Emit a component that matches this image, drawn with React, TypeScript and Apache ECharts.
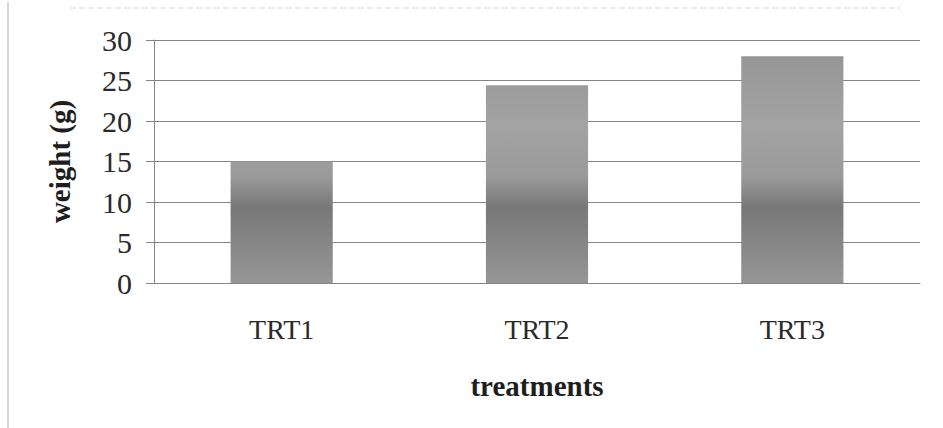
import React, { useEffect, useRef } from "react";
import * as echarts from "echarts";

const categories = ["TRT1", "TRT2", "TRT3"];
const weights = [15, 24.4, 28];
const yTicks = { min: 0, max: 30, interval: 5 };

export default function App() {
  const ref = useRef<HTMLDivElement>(null);
  useEffect(() => {
    if (!ref.current) return;
    const chart = echarts.init(ref.current, null, { renderer: "svg" });
    const font = "Liberation Serif";
    chart.setOption({
      animation: false,
      backgroundColor: "#ffffff",
      grid: { left: 154, right: 23, top: 40, bottom: 145 },
      graphic: [
        { type: "line", shape: { x1: 8, y1: 2, x2: 8, y2: 428 }, style: { stroke: "#b0b0b0", lineWidth: 1 } },
        { type: "line", shape: { x1: 70, y1: 8, x2: 900, y2: 8 }, style: { stroke: "#d8d8d8", lineWidth: 1, lineDash: [6, 3] } },
      ],
      xAxis: {
        type: "category",
        data: categories,
        axisLine: { lineStyle: { color: "#858585", width: 1 } },
        axisTick: { show: false },
        axisLabel: { color: "#2a2a2a", fontFamily: font, fontSize: 28, margin: 32 },
        name: "treatments",
        nameLocation: "middle",
        nameGap: 88,
        nameTextStyle: { color: "#1e1e1e", fontFamily: font, fontSize: 29, fontWeight: "bold" },
      },
      yAxis: {
        type: "value",
        min: yTicks.min,
        max: yTicks.max,
        interval: yTicks.interval,
        axisLine: { show: true, lineStyle: { color: "#858585", width: 1 } },
        axisTick: { show: true, length: 8, lineStyle: { color: "#858585" } },
        splitLine: { lineStyle: { color: "#858585", width: 1 } },
        axisLabel: { color: "#2a2a2a", fontFamily: font, fontSize: 30, margin: 22 },
        name: "weight (g)",
        nameLocation: "middle",
        nameGap: 80,
        nameTextStyle: { color: "#1e1e1e", fontFamily: font, fontSize: 29, fontWeight: "bold" },
      },
      series: [
        {
          type: "bar",
          data: weights,
          barWidth: "40%",
          itemStyle: {
            color: new echarts.graphic.LinearGradient(0, 40, 0, 283, [
              { offset: 0, color: "#939393" },
              { offset: 0.35, color: "#a3a3a3" },
              { offset: 0.56, color: "#9a9a9a" },
              { offset: 0.69, color: "#787878" },
              { offset: 1, color: "#969696" },
            ], true),
          },
        },
      ],
    });
    return () => chart.dispose();
  }, []);
  return <div ref={ref} style={{ position: "fixed", left: 0, top: 0, width: 943, height: 428 }} />;
}
